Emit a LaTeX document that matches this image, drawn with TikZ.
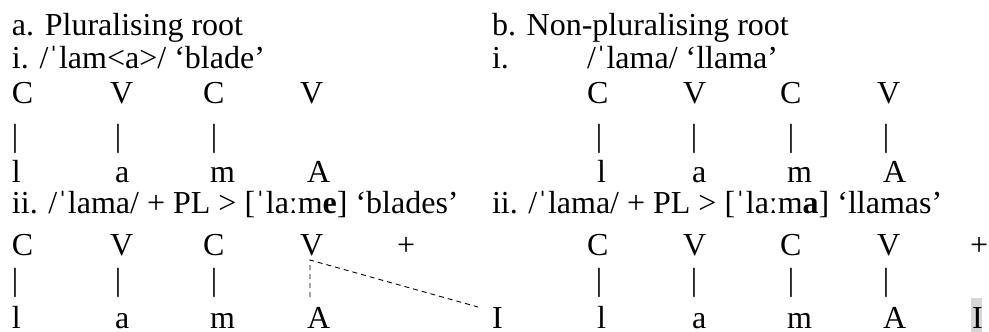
\documentclass[tikz,border=0pt]{standalone}
\usepackage{fontspec}
\setmainfont{Liberation Serif}
\definecolor{hlgrey}{HTML}{D6D6D6}
\begin{document}
\begin{tikzpicture}[x=1pt,y=-1pt,
  every node/.style={inner sep=0pt, outer sep=0pt, anchor=base west, font=\fontsize{32}{38}\selectfont},
  pipe/.style={anchor=center},
  link/.style={dashed, dash pattern=on 5pt off 4pt, line width=0.9pt}]
\useasboundingbox (0,0) rectangle (989,332);
% headings
\node (ha) at (12,35) {a. Pluralising root};
\node (hb) at (492,35) {b. Non-pluralising root};
\node (ai) at (12,68) {i. /ˈlam<a>/ ‘blade’};
\node (bi) at (492,68) {i.};
\node (bit) at (587,68) {/ˈlama/ ‘llama’};
% a.i
\node (a1C1) at (12,103) {C};
\node (a1V1) at (110,103) {V};
\node (a1C2) at (203,103) {C};
\node (a1V2) at (300,103) {V};
\node[pipe] (a1p1) at (15,139) {|};
\node[pipe] (a1p2) at (118,139) {|};
\node[pipe] (a1p3) at (214,139) {|};
\node (a1l) at (12,182) {l};
\node (a1a) at (115,182) {a};
\node (a1m) at (210,182) {m};
\node (a1A) at (307,182) {A};
% b.i
\node (b1C1) at (587,103) {C};
\node (b1V1) at (683,103) {V};
\node (b1C2) at (780,103) {C};
\node (b1V2) at (877,103) {V};
\node[pipe] (b1p1) at (599,139) {|};
\node[pipe] (b1p2) at (694,139) {|};
\node[pipe] (b1p3) at (791,139) {|};
\node[pipe] (b1p4) at (886,139) {|};
\node (b1l) at (597,182) {l};
\node (b1a) at (692,182) {a};
\node (b1m) at (787,182) {m};
\node (b1A) at (883,182) {A};
% a.ii
\node (aii) at (12,213) {ii. /ˈlama/ + PL > [ˈlaːm\textbf{e}] ‘blades’};
\node (a2C1) at (12,255) {C};
\node (a2V1) at (110,255) {V};
\node (a2C2) at (203,255) {C};
\node (a2V2) at (300,255) {V};
\node (a2plus) at (397,255) {+};
\node[pipe] (a2p1) at (15,283) {|};
\node[pipe] (a2p2) at (118,283) {|};
\node[pipe] (a2p3) at (214,283) {|};
\node (a2l) at (12,328) {l};
\node (a2a) at (115,328) {a};
\node (a2m) at (210,328) {m};
\node (a2A) at (307,328) {A};
\node (I1) at (492,328) {I};
% b.ii
\node (bii) at (492,213) {ii. /ˈlama/ + PL > [ˈlaːm\textbf{a}] ‘llamas’};
\node (b2C1) at (587,255) {C};
\node (b2V1) at (683,255) {V};
\node (b2C2) at (780,255) {C};
\node (b2V2) at (877,255) {V};
\node (b2plus) at (970,255) {+};
\node[pipe] (b2p1) at (599,283) {|};
\node[pipe] (b2p2) at (694,283) {|};
\node[pipe] (b2p3) at (791,283) {|};
\node[pipe] (b2p4) at (886,283) {|};
\node (b2l) at (597,328) {l};
\node (b2a) at (692,328) {a};
\node (b2m) at (787,328) {m};
\node (b2A) at (883,328) {A};
\fill[hlgrey] (971,298) rectangle (982,332);
\node (I2) at (972,328) {I};
% dashed association
\coordinate (d1) at (310,297);
\coordinate (d2) at (310,260);
\coordinate (d3) at (478,307);
\draw[link] (d1) -- (d2) -- (d3);
\end{tikzpicture}
\end{document}
